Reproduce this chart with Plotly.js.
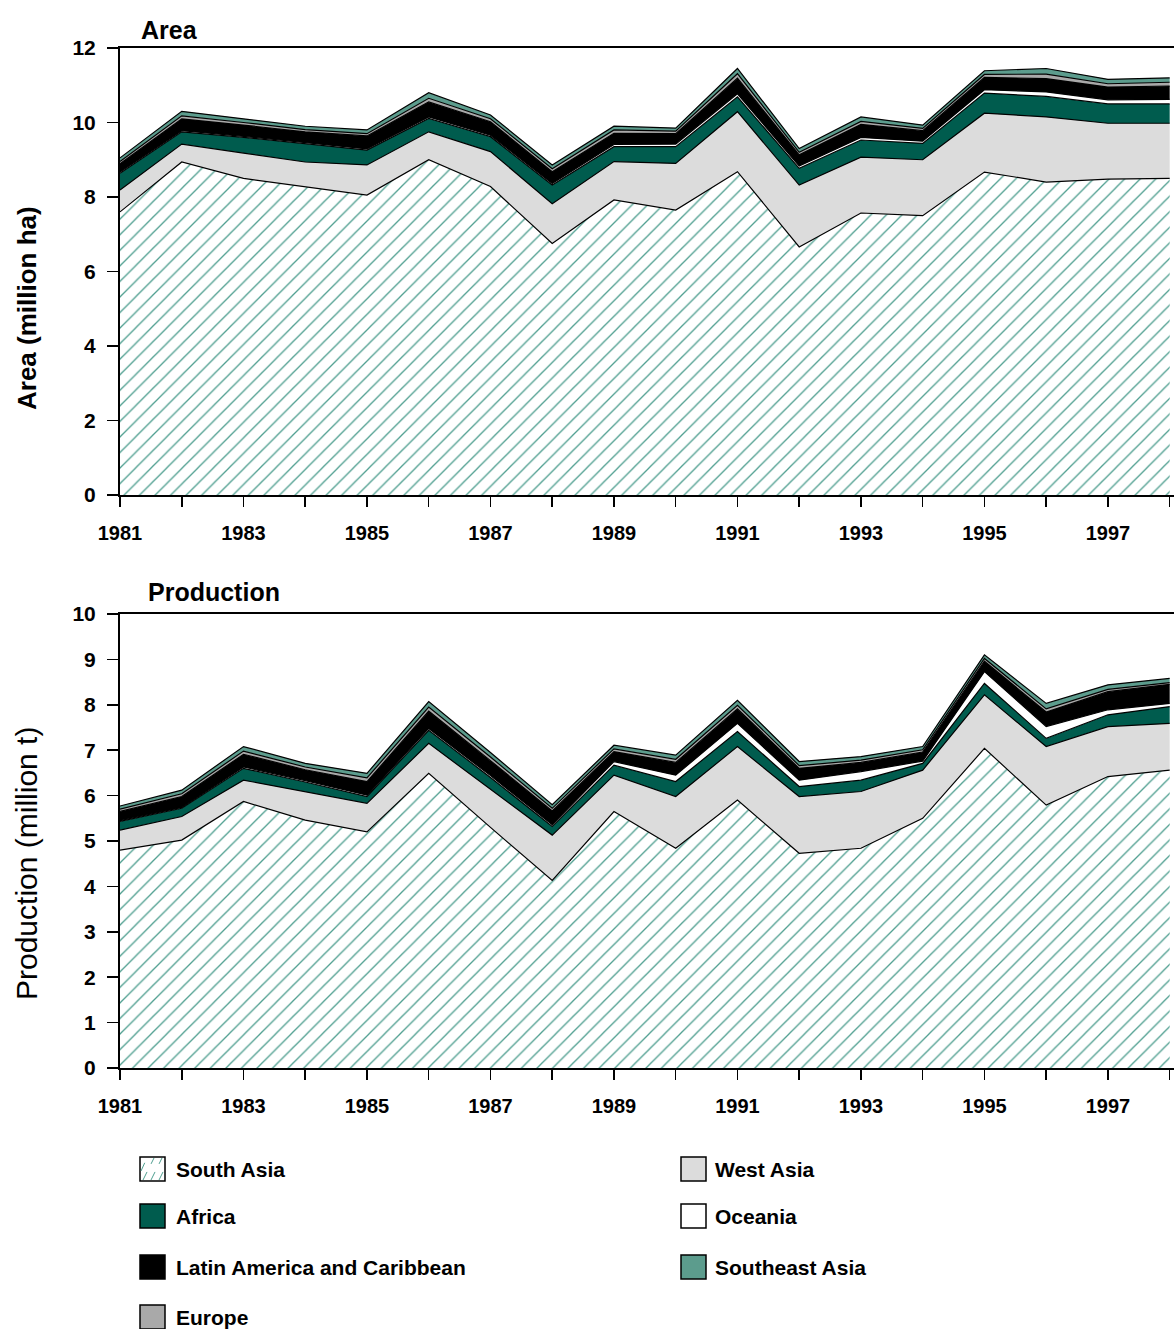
<!DOCTYPE html>
<html><head><meta charset="utf-8">
<script src="https://cdn.plot.ly/plotly-3.0.1.min.js"></script>
<style>html,body{margin:0;padding:0;background:#fff}#chart{width:1174px;height:1329px}</style>
</head><body><div id="chart"></div>
<script>
const years = [1981,1982,1983,1984,1985,1986,1987,1988,1989,1990,1991,1992,1993,1994,1995,1996,1997,1998];
const tickYears = [1981,1982,1983,1984,1985,1986,1987,1988,1989,1990,1991,1992,1993,1994,1995,1996,1997,1998];
const tickLabels = ['1981','','1983','','1985','','1987','','1989','','1991','','1993','','1995','','1997',''];

const regions = ['South Asia','West Asia','Africa','Oceania','Latin America and Caribbean','Europe','Southeast Asia'];

// Area (million ha)
const areaSouthAsia = [7.60,8.94,8.50,8.27,8.05,9.00,8.28,6.75,7.92,7.65,8.68,6.66,7.57,7.50,8.67,8.40,8.48,8.50];
const areaWestAsia  = [0.59,0.48,0.68,0.67,0.81,0.75,0.94,1.07,1.03,1.25,1.61,1.66,1.50,1.50,1.58,1.75,1.50,1.48];
const areaAfrica    = [0.45,0.33,0.42,0.50,0.40,0.36,0.40,0.50,0.40,0.45,0.40,0.45,0.46,0.44,0.54,0.55,0.52,0.52];
const areaOceania   = [0.03,0.03,0.03,0.03,0.03,0.04,0.04,0.04,0.06,0.07,0.08,0.06,0.07,0.06,0.09,0.12,0.11,0.12];
const areaLatAm     = [0.22,0.32,0.30,0.28,0.35,0.40,0.36,0.32,0.30,0.28,0.42,0.30,0.35,0.28,0.33,0.36,0.34,0.36];
const areaEurope    = [0.06,0.08,0.07,0.06,0.06,0.10,0.08,0.08,0.09,0.07,0.12,0.07,0.08,0.06,0.08,0.12,0.09,0.10];
const areaSEAsia    = [0.10,0.12,0.10,0.09,0.10,0.15,0.10,0.10,0.10,0.08,0.14,0.10,0.12,0.09,0.10,0.15,0.12,0.12];

// Production (million t)
const prodSouthAsia = [4.80,5.02,5.87,5.46,5.20,6.49,5.30,4.13,5.65,4.84,5.90,4.73,4.84,5.50,7.04,5.79,6.42,6.56];
const prodWestAsia  = [0.44,0.52,0.47,0.63,0.63,0.66,0.85,1.00,0.80,1.14,1.18,1.25,1.25,1.06,1.18,1.29,1.10,1.03];
const prodAfrica    = [0.19,0.18,0.26,0.21,0.15,0.29,0.25,0.19,0.22,0.33,0.33,0.22,0.25,0.15,0.25,0.18,0.26,0.37];
const prodOceania   = [0.02,0.02,0.03,0.03,0.03,0.04,0.04,0.04,0.08,0.14,0.18,0.14,0.19,0.05,0.26,0.26,0.11,0.07];
const prodLatAm     = [0.20,0.24,0.28,0.24,0.30,0.38,0.33,0.30,0.22,0.28,0.32,0.26,0.20,0.20,0.23,0.32,0.40,0.42];
const prodEurope    = [0.05,0.06,0.07,0.06,0.08,0.09,0.08,0.06,0.06,0.07,0.08,0.06,0.05,0.05,0.06,0.07,0.05,0.04];
const prodSEAsia    = [0.07,0.08,0.10,0.08,0.10,0.12,0.10,0.08,0.08,0.09,0.11,0.09,0.08,0.07,0.08,0.12,0.10,0.09];

const legendCol1 = ['South Asia','Africa','Latin America and Caribbean','Europe'];
const legendCol2 = ['West Asia','Oceania','Southeast Asia'];

const colors = {
  'South Asia':'#ffffff',
  'West Asia':'#dcdcdc',
  'Africa':'#005c4e',
  'Oceania':'#ffffff',
  'Latin America and Caribbean':'#000000',
  'Europe':'#a9a9a9',
  'Southeast Asia':'#5c9c8d'
};
const patternColor = '#4f9f90';

const areaSeries = [areaSouthAsia, areaWestAsia, areaAfrica, areaOceania, areaLatAm, areaEurope, areaSEAsia];
const prodSeries = [prodSouthAsia, prodWestAsia, prodAfrica, prodOceania, prodLatAm, prodEurope, prodSEAsia];

const W = 1174, H = 1329;
const px = x => x / W;
const py = y => 1 - y / H;

function makeTraces(series, xa, ya, group) {
  return series.map((vals, i) => {
    const name = regions[i];
    const t = {
      type: 'scatter', mode: 'lines', x: years, y: vals, name: name,
      xaxis: xa, yaxis: ya, stackgroup: group, showlegend: false,
      line: {color: '#000', width: 1.2, shape: 'linear'},
      fillcolor: colors[name], hoverinfo: 'skip'
    };
    if (name === 'South Asia') {
      t.fillpattern = {shape: '/', fgcolor: patternColor, bgcolor: '#ffffff', size: 11, solidity: 0.12};
    }
    return t;
  });
}

const data = [].concat(makeTraces(areaSeries, 'x', 'y', 'area'), makeTraces(prodSeries, 'x2', 'y2', 'prod'));

const fontFam = 'Liberation Sans, Arial, sans-serif';
const boldTick = {family: fontFam, size: 20, color: '#000', weight: 700};

function xAxis(anchor) {
  return {
    domain: [px(120), 1], anchor: anchor, range: [1981, 1998.07],
    tickmode: 'array', tickvals: tickYears, ticktext: tickLabels,
    ticks: 'outside', ticklen: 10, tickwidth: 1.5, tickcolor: '#000',
    showline: true, linecolor: '#000', linewidth: 2, mirror: true,
    showgrid: false, zeroline: false, tickfont: boldTick, ticklabelstandoff: 9,
    fixedrange: true
  };
}
function yAxis(anchor, dom, max, dt) {
  return {
    domain: dom, anchor: anchor, range: [0, max], dtick: dt, tick0: 0,
    ticks: 'outside', ticklen: 11, tickwidth: 1.5, tickcolor: '#000',
    showline: true, linecolor: '#000', linewidth: 2,
    showgrid: false, zeroline: false,
    tickfont: {family: fontFam, size: 21, color: '#000', weight: 700}, ticklabelstandoff: 7,
    fixedrange: true
  };
}

const shapes = [];
const annotations = [];

// panel titles
annotations.push({text: 'Area', xref: 'paper', yref: 'paper', x: px(139), y: py(30), xanchor: 'left', yanchor: 'middle', showarrow: false,
  font: {family: fontFam, size: 25, color: '#000', weight: 700}});
annotations.push({text: 'Production', xref: 'paper', yref: 'paper', x: px(146), y: py(592), xanchor: 'left', yanchor: 'middle', showarrow: false,
  font: {family: fontFam, size: 25, color: '#000', weight: 700}});
// axis titles
annotations.push({text: 'Area (million ha)', xref: 'paper', yref: 'paper', x: px(27), y: py(308), xanchor: 'center', yanchor: 'middle', textangle: -90, showarrow: false,
  font: {family: fontFam, size: 26, color: '#000', weight: 700}});
annotations.push({text: 'Production (million t)', xref: 'paper', yref: 'paper', x: px(26), y: py(864), xanchor: 'center', yanchor: 'middle', textangle: -90, showarrow: false,
  font: {family: fontFam, size: 30, color: '#000'}});

// legend
const rowY = [1169, 1216, 1267, 1317];
function legendItem(name, bx, tx, cy) {
  shapes.push({type: 'rect', xref: 'paper', yref: 'paper', x0: px(bx), x1: px(bx + 25), y0: py(cy + 12), y1: py(cy - 12),
    fillcolor: colors[name], line: {color: '#000', width: 1.5}});
  if (name === 'South Asia') {
    let p = '';
    [[bx+3, cy+11, bx+14, cy-11], [bx+11, cy+11, bx+22, cy-11], [bx+1, cy+2, bx+6, cy-9], [bx+19, cy+11, bx+24, cy+1]].forEach(s => {
      p += 'M' + px(s[0]) + ',' + py(s[1]) + 'L' + px(s[2]) + ',' + py(s[3]);
    });
    shapes.push({type: 'path', xref: 'paper', yref: 'paper', path: p, line: {color: patternColor, width: 1, dash: 'dash'}});
  }
  annotations.push({text: name, xref: 'paper', yref: 'paper', x: px(tx), y: py(cy), xanchor: 'left', yanchor: 'middle', showarrow: false,
    font: {family: fontFam, size: 21, color: '#000', weight: 700}});
}
legendCol1.forEach((n, i) => legendItem(n, 140, 174, rowY[i]));
legendCol2.forEach((n, i) => legendItem(n, 681, 713, rowY[i]));

const layout = {
  width: W, height: H, margin: {l: 0, r: 0, t: 0, b: 0},
  paper_bgcolor: '#fff', plot_bgcolor: '#fff', showlegend: false,
  xaxis: xAxis('y'),
  yaxis: yAxis('x', [py(495), py(48)], 12, 2),
  xaxis2: xAxis('y2'),
  yaxis2: yAxis('x2', [py(1068), py(614)], 10, 1),
  shapes: shapes, annotations: annotations
};

Plotly.newPlot('chart', data, layout, {staticPlot: true, displayModeBar: false});
</script>
</body></html>
